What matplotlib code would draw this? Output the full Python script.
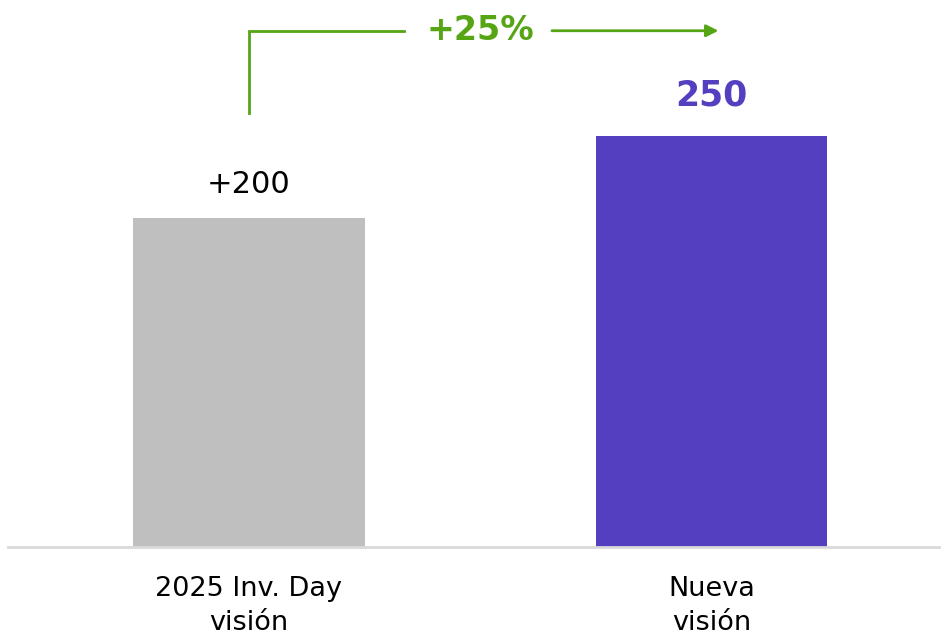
import numpy as np
import matplotlib.pyplot as plt

categories = ['2025 Inv. Day\nvisión', 'Nueva\nvisión']
values = [200, 250]
value_labels = ['+200', '250']
growth_label = '+25%'

gray = '#BFBFBF'
purple = '#553FC1'
green = '#55A515'

fig = plt.figure(figsize=(9.41, 6.41), dpi=100)
ax = fig.add_axes([0, 94 / 641, 1, 547 / 641])

x = np.arange(len(values))
ax.bar(x, values, width=0.5, color=[gray, purple])
ax.set_xlim(-0.538, 1.496)
ax.set_ylim(0, 332.7)

for s in ax.spines.values():
    s.set_visible(False)
ax.axhline(0, xmin=8 / 941, xmax=1, color='#D9D9D9', lw=2, clip_on=False)
ax.set_yticks([])
ax.set_xticks(x)
ax.set_xticklabels(categories, fontsize=19.5, linespacing=1.4)
ax.tick_params(axis='x', length=0, pad=21)

# value labels
ax.annotate(value_labels[0], (x[0], values[0]), xytext=(0, 14), textcoords='offset points',
            ha='center', va='bottom', fontsize=22, color='black')
ax.annotate(value_labels[1], (x[1], values[1]), xytext=(0, 17), textcoords='offset points',
            ha='center', va='bottom', fontsize=25, color=purple, fontweight='bold')

# growth arrow
y_top = max(values) + 64
y_start = values[0] + 64
mid = (x[0] + x[1]) / 2
ax.plot([x[0], x[0], mid - 0.165], [y_start, y_top, y_top], color=green, lw=2,
        solid_joinstyle='miter', clip_on=False)
ax.annotate('', xy=(x[1] + 0.015, y_top), xytext=(mid + 0.155, y_top),
            arrowprops=dict(arrowstyle='-|>', color=green, lw=2, mutation_scale=18,
                            shrinkA=0, shrinkB=0))
ax.text(mid, y_top, growth_label, ha='center', va='center', fontsize=24,
        fontweight='bold', color=green)

fig.savefig('out.png', dpi=100)
